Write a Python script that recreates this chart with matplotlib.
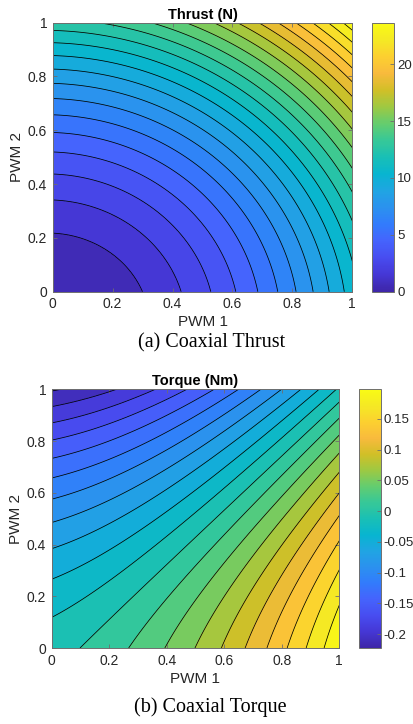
import numpy as np
import matplotlib
matplotlib.use("Agg")
import matplotlib.pyplot as plt
from matplotlib.colors import LinearSegmentedColormap, Normalize
from matplotlib.cm import ScalarMappable

# fitted rotor models: value = a*p^2 + b*p per PWM channel, plus cross term / offset
thrust_pwm1 = [10.3, 0.25]      # N
thrust_pwm2 = [10.3, 2.35]      # N
thrust_cross = 0.45             # N
torque_pwm1 = [0.1381, 0.0677]  # Nm
torque_pwm2 = [-0.128, -0.0863] # Nm
torque_offset = -0.008          # Nm

thrust_step = 1.0
torque_step = 0.02

pwm_ticks = [0, 0.2, 0.4, 0.6, 0.8, 1]
pwm_labels = ["0", "0.2", "0.4", "0.6", "0.8", "1"]
thrust_cb_ticks = [0, 5, 10, 15, 20]
thrust_cb_labels = ["0", "5", "10", "15", "20"]
torque_cb_ticks = [-0.2, -0.15, -0.1, -0.05, 0, 0.05, 0.1, 0.15]
torque_cb_labels = ["-0.2", "-0.15", "-0.1", "-0.05", "0", "0.05", "0.1", "0.15"]

# parula-like colormap
parula_pts = [
    (0.2422, 0.1504, 0.6603), (0.2706, 0.2147, 0.8364), (0.2813, 0.3006, 0.9414),
    (0.2699, 0.3892, 0.9906), (0.1963, 0.4847, 0.9892), (0.1687, 0.5703, 0.9359),
    (0.1248, 0.6459, 0.8883), (0.0297, 0.7082, 0.8163), (0.0964, 0.7500, 0.7120),
    (0.2161, 0.7843, 0.5923), (0.3909, 0.8029, 0.4354), (0.6174, 0.7876, 0.2612),
    (0.8203, 0.7498, 0.1535), (0.9728, 0.7298, 0.2394), (0.9892, 0.8136, 0.1885),
    (0.9597, 0.9135, 0.1423), (0.9769, 0.9839, 0.0805),
]
parula = LinearSegmentedColormap.from_list("parula", parula_pts, N=256)

plt.rcParams['font.family'] = ['Liberation Sans', 'DejaVu Sans']
plt.rcParams['axes.unicode_minus'] = False
text_col = '#262626'
edge_col = '#6e6e6e'

p = np.linspace(0, 1, 301)
P1, P2 = np.meshgrid(p, p)
thrust = (thrust_pwm1[0] * P1**2 + thrust_pwm1[1] * P1
          + thrust_pwm2[0] * P2**2 + thrust_pwm2[1] * P2
          + thrust_cross * P1 * P2)
torque = (torque_offset + torque_pwm1[0] * P1**2 + torque_pwm1[1] * P1
          + torque_pwm2[0] * P2**2 + torque_pwm2[1] * P2)

W, H = 413, 724
fig = plt.figure(figsize=(W / 100, H / 100), dpi=100)


def px_box(x0, y0, x1, y1):
    return [x0 / W, 1 - y1 / H, (x1 - x0) / W, (y1 - y0) / H]


def style_axes(ax):
    for s in ax.spines.values():
        s.set_color(edge_col)
        s.set_linewidth(0.7)
    ax.tick_params(direction='in', length=3, width=0.6, color=edge_col,
                   labelsize=10, labelcolor=text_col, top=True, right=True, pad=4)


def draw_panel(box, cbox, Z, step, title, cb_ticks, cb_labels):
    ax = fig.add_axes(px_box(*box))
    cax = fig.add_axes(px_box(*cbox))
    zmin, zmax = Z.min(), Z.max()
    inner = np.arange(np.ceil(zmin / step) * step, zmax, step)
    inner = inner[(inner > zmin + 1e-9) & (inner < zmax - 1e-9)]
    levels = np.concatenate(([zmin], inner, [zmax]))
    norm = Normalize(zmin, zmax)
    ax.contourf(P1, P2, Z, levels=levels, cmap=parula, norm=norm)
    ax.contour(P1, P2, Z, levels=inner, colors='k', linewidths=0.55,
               linestyles='solid')
    ax.set_xlim(0, 1)
    ax.set_ylim(0, 1)
    ax.set_xticks(pwm_ticks, pwm_labels)
    ax.set_yticks(pwm_ticks, pwm_labels)
    ax.set_xlabel("PWM 1", fontsize=11, color=text_col, labelpad=3)
    ax.set_ylabel("PWM 2", fontsize=11, color=text_col, labelpad=3)
    ax.set_title(title, fontsize=10.5, fontweight='bold', color='black', pad=3)
    style_axes(ax)

    cb = fig.colorbar(ScalarMappable(norm=norm, cmap=parula), cax=cax)
    cb.set_ticks(cb_ticks, labels=cb_labels)
    cb.outline.set_edgecolor(edge_col)
    cb.outline.set_linewidth(0.7)
    cax.tick_params(direction='in', length=3, width=0.6, color=edge_col,
                    labelsize=9.5, labelcolor=text_col, pad=2)
    return ax


draw_panel((52.7, 22.7, 352.3, 291.7), (372.3, 22.7, 394.3, 291.7),
           thrust, thrust_step, "Thrust (N)", thrust_cb_ticks, thrust_cb_labels)
draw_panel((51.7, 389.3, 339.3, 648.0), (359.3, 389.3, 381.0, 648.0),
           torque, torque_step, "Torque (Nm)", torque_cb_ticks, torque_cb_labels)

fig.text(212 / W, 1 - 343 / H, "(a) Coaxial Thrust", ha='center', va='center',
         fontsize=14.5, family='Liberation Serif', color='black')
fig.text(210 / W, 1 - 707 / H, "(b) Coaxial Torque", ha='center', va='center',
         fontsize=14.5, family='Liberation Serif', color='black')

fig.savefig("out.png", dpi=100)
